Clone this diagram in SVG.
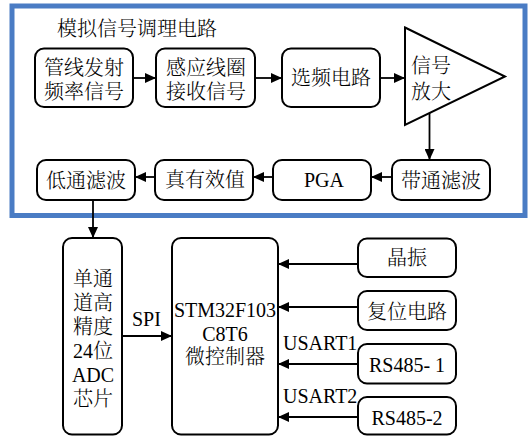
<svg xmlns="http://www.w3.org/2000/svg" width="531" height="436" viewBox="0 0 531 436">
<defs>
<marker id="ah" markerUnits="userSpaceOnUse" markerWidth="11" markerHeight="10" refX="11" refY="5" orient="auto">
<path d="M0,0 L11,5 L0,10 z" fill="#000"/>
</marker>
<style>
.box{fill:#fff;stroke:#000;stroke-width:2}
.t{font-family:"Liberation Serif","Noto Serif CJK SC","Noto Sans CJK SC",serif;font-size:20px;font-weight:300;fill:#000;text-anchor:middle}
.ts{text-anchor:start}
.c{stroke:#000;stroke-width:1.8;fill:none;marker-end:url(#ah)}
</style>
</defs>
<rect x="0" y="0" width="531" height="436" fill="#fff"/>
<rect id="frame" x="12" y="6" width="513" height="209.5" fill="none" stroke="#4A7CC4" stroke-width="5"/>
<text class="t ts" x="57" y="36">模拟信号调理电路</text>

<g id="connectors">
<line class="c" x1="133" y1="78" x2="156" y2="78"/>
<line class="c" x1="255" y1="78" x2="282" y2="78"/>
<line class="c" x1="380" y1="78" x2="405" y2="78"/>
<line class="c" x1="429.5" y1="113" x2="429.5" y2="160"/>
<line class="c" x1="392" y1="177" x2="371" y2="177"/>
<line class="c" x1="273" y1="177" x2="253" y2="177"/>
<line class="c" x1="155" y1="177" x2="135" y2="177"/>
<line class="c" x1="93" y1="200" x2="93" y2="238"/>
<line class="c" x1="122" y1="336" x2="172" y2="336"/>
<line class="c" x1="358" y1="264" x2="278" y2="264"/>
<line class="c" x1="358" y1="307" x2="278" y2="307"/>
<line class="c" x1="358" y1="364" x2="278" y2="364"/>
<line class="c" x1="358" y1="417" x2="278" y2="417"/>
<text class="t ts" x="132" y="326">SPI</text>
<text class="t ts" x="283" y="350">USART1</text>
<text class="t ts" x="283" y="403">USART2</text>
</g>

<g id="n1"><rect class="box" x="35" y="48.5" width="98" height="58.5" rx="9"/>
<text class="t" x="84" y="75">管线发射</text><text class="t" x="84" y="99">频率信号</text></g>
<g id="n2"><rect class="box" x="156" y="48.5" width="99" height="58.5" rx="9"/>
<text class="t" x="206" y="75">感应线圈</text><text class="t" x="206" y="99">接收信号</text></g>
<g id="n3"><rect class="box" x="282" y="48.5" width="98" height="58.5" rx="9"/>
<text class="t" x="331" y="85">选频电路</text></g>
<g id="n4"><polygon points="405,27.5 505,76.5 405,125" fill="#fff" stroke="#000" stroke-width="2" stroke-linejoin="miter"/>
<text class="t ts" x="411" y="73">信号</text><text class="t ts" x="411" y="99">放大</text></g>
<g id="n5"><rect class="box" x="392" y="160" width="98" height="40" rx="9"/>
<text class="t" x="441" y="188">带通滤波</text></g>
<g id="n6"><rect class="box" x="273" y="160" width="98" height="40" rx="9"/>
<text class="t" x="324" y="187">PGA</text></g>
<g id="n7"><rect class="box" x="155" y="160" width="98" height="40" rx="9"/>
<text class="t" x="205" y="187">真有效值</text></g>
<g id="n8"><rect class="box" x="37" y="160" width="98" height="40" rx="9"/>
<text class="t" x="86" y="188">低通滤波</text></g>
<g id="n9"><rect class="box" x="63" y="238" width="59" height="196.5" rx="9"/>
<text class="t" x="93" y="285.5">单通</text><text class="t" x="93" y="309.5">道高</text><text class="t" x="93" y="333.5">精度</text><text class="t" x="93" y="357.5">24位</text><text class="t" x="93" y="381.5">ADC</text><text class="t" x="93" y="405.5">芯片</text></g>
<g id="n10"><rect class="box" x="172" y="238" width="106" height="196.5" rx="9"/>
<text class="t" x="225" y="317">STM32F103</text><text class="t" x="225" y="341">C8T6</text><text class="t" x="225" y="364">微控制器</text></g>
<g id="n11"><rect class="box" x="358" y="238.5" width="98" height="38.5" rx="9"/>
<text class="t" x="407" y="265">晶振</text></g>
<g id="n12"><rect class="box" x="358" y="291" width="98" height="39" rx="9"/>
<text class="t" x="407" y="318.5">复位电路</text></g>
<g id="n13"><rect class="box" x="358" y="344" width="98" height="39.5" rx="9"/>
<text class="t" x="407" y="371.5">RS485- 1</text></g>
<g id="n14"><rect class="box" x="358" y="397" width="98" height="37.5" rx="9"/>
<text class="t" x="407" y="425">RS485-2</text></g>
</svg>
